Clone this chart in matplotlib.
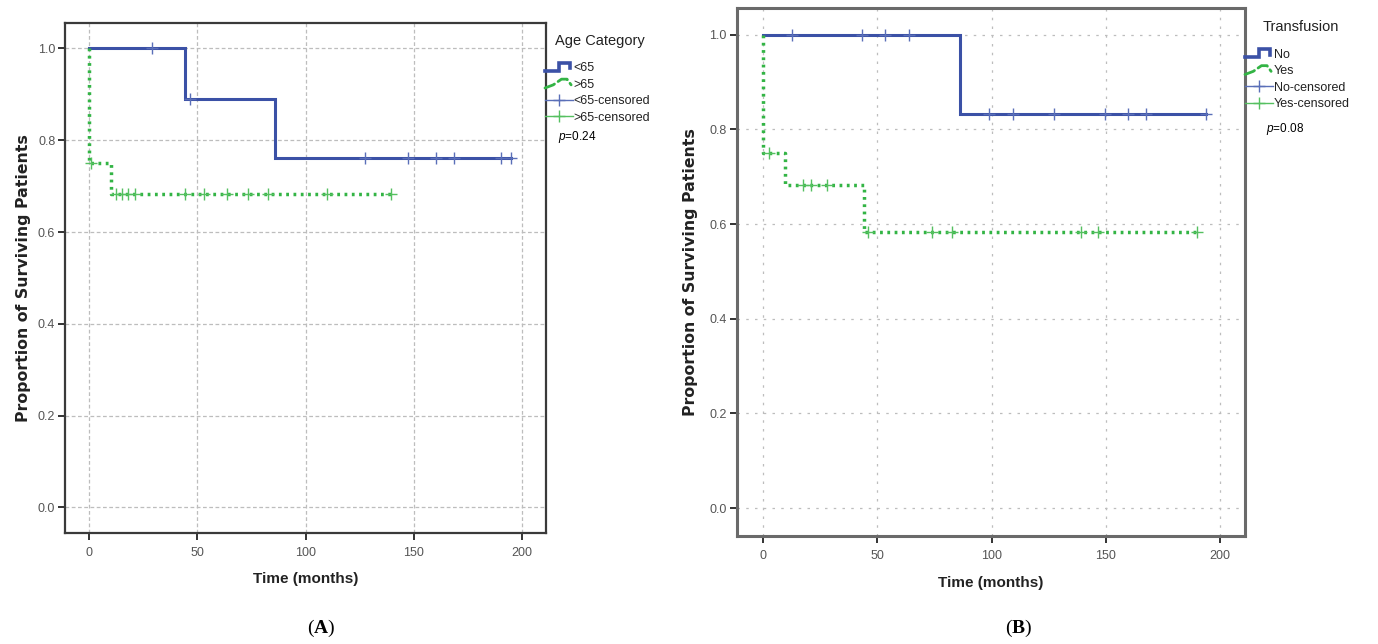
import numpy as np
import matplotlib
matplotlib.use("Agg")
import matplotlib.pyplot as plt
from matplotlib.lines import Line2D
from matplotlib.legend_handler import HandlerBase

plt.rcParams["mathtext.fontset"] = "custom"
plt.rcParams["mathtext.rm"] = "Liberation Serif"
plt.rcParams["mathtext.bf"] = "Liberation Serif:bold"
plt.rcParams["mathtext.it"] = "Liberation Sans:italic"

# ---- Panel A: age category ----
age_groups = ["<65", ">65"]
age_lt65_time = [0, 44.3, 85.9, 194.8]
age_lt65_surv = [1.0, 0.889, 0.762, 0.762]
age_lt65_cens = [28.9, 46.6, 127.5, 147.1, 160.2, 168.6, 190.2, 194.8]

age_gt65_time = [0, 0, 10.0, 139.2]
age_gt65_surv = [1.0, 0.75, 0.682, 0.682]
age_gt65_cens = [0.9, 12.3, 15.1, 18.2, 21.2, 44.3, 53.1, 63.6, 73.6, 82.8,
                 109.8, 139.2]
age_p_value = "0.24"

# ---- Panel B: transfusion ----
transfusion_groups = ["No", "Yes"]
tr_no_time = [0, 86.0, 194.1]
tr_no_surv = [1.0, 0.833, 0.833]
tr_no_cens = [12.7, 43.4, 53.2, 63.9, 99.0, 109.3, 127.3, 149.7, 159.9,
              167.8, 194.1]

tr_yes_time = [0, 0, 9.5, 44.1, 190.0]
tr_yes_surv = [1.0, 0.75, 0.682, 0.583, 0.583]
tr_yes_cens = [2.6, 17.6, 20.8, 28.0, 46.0, 73.7, 82.5, 139.0, 146.8, 190.0]
tr_p_value = "0.08"

x_ticks = [0, 50, 100, 150, 200]
y_ticks = [0.0, 0.2, 0.4, 0.6, 0.8, 1.0]
y_ticklabels = ["0.0", "0.2", "0.4", "0.6", "0.8", "1.0"]

BLUE = "#3b51a6"
BLUE_LIGHT = "#5a6fb8"
GREEN = "#33b445"
GREEN_LIGHT = "#55c060"
TXT = "#222222"
TICK_TXT = "#555555"

W, H = 1378, 644
fig = plt.figure(figsize=(W / 100, H / 100), dpi=100)


def surv_at(times, surv, t):
    idx = np.searchsorted(np.asarray(times), t, side="right") - 1
    return np.asarray(surv)[idx]


class StepHandler(HandlerBase):
    """Legend glyph drawn as a small survival step."""

    def __init__(self, shape, **kw):
        super().__init__(**kw)
        self.shape = shape

    def create_artists(self, legend, orig_handle, xdescent, ydescent,
                       width, height, fontsize, trans):
        x0, y0 = -xdescent, -ydescent
        if self.shape == "solid":
            fx = [0.0, 0.5, 0.5, 0.9, 0.9]
            fy = [0.1, 0.1, 0.9, 0.9, 0.35]
        else:
            fx = [0.0, 0.3, 0.6, 0.8, 0.95]
            fy = [0.05, 0.35, 0.9, 0.9, 0.35]
        xs = [x0 + f * width for f in fx]
        ys = [y0 + f * height for f in fy]
        ln = Line2D(xs, ys, color=orig_handle.get_color(),
                    lw=orig_handle.get_linewidth(),
                    ls=orig_handle.get_linestyle(), solid_joinstyle="miter",
                    dash_capstyle="round")
        ln.set_transform(trans)
        return [ln]


def draw_panel(rect, xlim, ylim, series, grid_dash, spine_color, spine_w,
               title, labels, p_value, legend_xy, title_xy, p_xy, tag, tag_xy,
               ylabelpad):
    ax = fig.add_axes(rect)
    ax.set_xlim(*xlim)
    ax.set_ylim(*ylim)
    ax.set_axisbelow(True)
    for xv in x_ticks:
        ax.axvline(xv, color="#bdbdbd", lw=0.9, ls=grid_dash, zorder=0)
    for yv in y_ticks:
        ax.axhline(yv, color="#bdbdbd", lw=0.9, ls=grid_dash, zorder=0)

    for (times, surv, cens, color, ccolor, style) in series:
        if style == "solid":
            ax.step(times, surv, where="post", color=color, lw=2.2,
                    solid_joinstyle="miter", zorder=3)
        else:
            ax.step(times, surv, where="post", color=color, lw=2.5,
                    ls=(0, (0.8, 1.3)), zorder=3)
        cy = surv_at(times, surv, np.asarray(cens))
        ax.plot(cens, cy, ls="none", marker="+", ms=8, mew=1.0,
                color=ccolor, zorder=4)

    # legend handles
    s0, s1 = series
    h_main0 = Line2D([], [], color=s0[3], lw=2.6)
    h_main1 = Line2D([], [], color=s1[3], lw=2.0, ls=(0, (0.3, 1.4)))
    h_c0 = Line2D([], [], color=s0[4], lw=1.0, marker="+", ms=9, mew=1.0)
    h_c1 = Line2D([], [], color=s1[4], lw=1.0, marker="+", ms=9, mew=1.0)
    leg = ax.legend(
        [h_main0, h_main1, h_c0, h_c1],
        [labels[0], labels[1], labels[0] + "-censored", labels[1] + "-censored"],
        handler_map={h_main0: StepHandler("solid"),
                     h_main1: StepHandler("dotted")},
        loc="upper left", bbox_to_anchor=legend_xy,
        bbox_transform=fig.transFigure, frameon=False, borderpad=0,
        borderaxespad=0, handlelength=2.2, handleheight=0.9,
        handletextpad=0.1, labelspacing=0.33,
        prop={"family": "Liberation Sans", "size": 9})
    for t in leg.get_texts():
        t.set_color(TXT)

    fig.text(title_xy[0], title_xy[1], title, fontsize=10.5,
             family="Liberation Sans", color=TXT, va="center", ha="left")
    fig.text(p_xy[0], p_xy[1], r"$p$=" + p_value, fontsize=8.5,
             family="Liberation Sans", color="black", va="center", ha="left")

    ax.set_xticks(x_ticks)
    ax.set_xticklabels([str(v) for v in x_ticks])
    ax.set_yticks(y_ticks)
    ax.set_yticklabels(y_ticklabels)
    ax.tick_params(axis="both", direction="out", length=5, width=1.4,
                   color="#333333", labelsize=9, labelcolor=TICK_TXT, pad=2)
    for lab in ax.get_xticklabels() + ax.get_yticklabels():
        lab.set_family("Liberation Sans")
    ax.tick_params(axis="x", pad=5)

    for sp in ax.spines.values():
        sp.set_color(spine_color)
        sp.set_linewidth(spine_w)

    ax.set_xlabel("Time (months)", fontsize=11, fontweight="bold",
                  family="Liberation Sans", color=TXT, labelpad=10)
    ax.set_ylabel("Proportion of Surviving Patients", fontsize=11.3,
                  fontweight="bold", family="DejaVu Sans", color=TXT,
                  labelpad=ylabelpad)

    fig.text(tag_xy[0], tag_xy[1], r"$\mathrm{(}\mathbf{" + tag + r"}\mathrm{)}$",
             fontsize=14, ha="center", va="center", color="black")
    return ax


# Panel A
draw_panel(
    rect=[65 / W, 1 - 532.7 / H, (546 - 65) / W, (532.7 - 22.7) / H],
    xlim=(-11.1, 211.0), ylim=(-0.055, 1.056),
    series=[(age_lt65_time, age_lt65_surv, age_lt65_cens, BLUE, BLUE_LIGHT, "solid"),
            (age_gt65_time, age_gt65_surv, age_gt65_cens, GREEN, GREEN_LIGHT, "dotted")],
    grid_dash=(0, (3, 2)), spine_color="#3a3a3a", spine_w=1.6,
    title="Age Category", labels=age_groups, p_value=age_p_value,
    legend_xy=(545 / W, 1 - 61.5 / H), title_xy=(555 / W, 1 - 40.7 / H),
    p_xy=(558 / W, 1 - 137.3 / H), tag="A", tag_xy=(321 / W, 1 - 628 / H),
    ylabelpad=5)

# Panel B
draw_panel(
    rect=[736.5 / W, 1 - 536 / H, (1244.6 - 736.5) / W, (536 - 8.3) / H],
    xlim=(-11.7, 210.8), ylim=(-0.059, 1.056),
    series=[(tr_no_time, tr_no_surv, tr_no_cens, BLUE, BLUE_LIGHT, "solid"),
            (tr_yes_time, tr_yes_surv, tr_yes_cens, GREEN, GREEN_LIGHT, "dotted")],
    grid_dash=(0, (2, 5)), spine_color="#6a6a6a", spine_w=2.2,
    title="Transfusion", labels=transfusion_groups, p_value=tr_p_value,
    legend_xy=(1245 / W, 1 - 48 / H), title_xy=(1263 / W, 1 - 26.7 / H),
    p_xy=(1266 / W, 1 - 129 / H), tag="B", tag_xy=(1019 / W, 1 - 628 / H),
    ylabelpad=8)

fig.savefig("out.png", dpi=100)
